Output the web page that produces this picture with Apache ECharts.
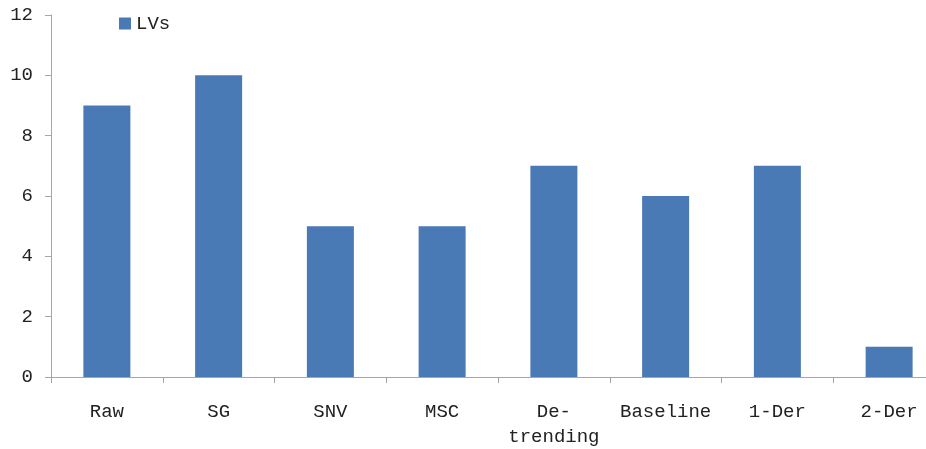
<!DOCTYPE html>
<html>
<head>
<meta charset="utf-8">
<script src="https://cdn.jsdelivr.net/npm/echarts@6/dist/echarts.min.js"></script>
<style>
  html, body { margin: 0; padding: 0; background: #fff; overflow: hidden; }
  #chart { width: 950px; height: 449px; }
</style>
</head>
<body>
<div id="chart"></div>
<script>
// Preprocessing methods and their number of latent variables
const categories = ['Raw', 'SG', 'SNV', 'MSC', 'De-\ntrending', 'Baseline', '1-Der', '2-Der'];
const lvValues = [9, 10, 5, 5, 7, 6, 7, 1];
const yTicks = [0, 2, 4, 6, 8, 10, 12];

const FONT = '"Liberation Mono", "DejaVu Sans Mono", monospace';
const AXIS_COLOR = '#a6a6a6';

const chart = echarts.init(document.getElementById('chart'));
chart.setOption({
  animation: false,
  textStyle: { fontFamily: FONT },
  legend: {
    data: [{ name: 'LVs', icon: 'rect' }],
    left: 114,
    top: 9,
    itemWidth: 12,
    itemHeight: 12,
    itemGap: 6,
    textStyle: { fontFamily: FONT, fontSize: 19, color: '#222' }
  },
  grid: { left: 51, top: 15, width: 894, height: 362 },
  xAxis: {
    type: 'category',
    data: categories,
    axisLine: { lineStyle: { color: AXIS_COLOR, width: 1 } },
    axisTick: { show: true, alignWithLabel: false, length: 6, lineStyle: { color: AXIS_COLOR } },
    axisLabel: {
      color: '#222',
      fontFamily: FONT,
      fontSize: 19,
      margin: 22,
      lineHeight: 25,
      interval: 0
    }
  },
  yAxis: {
    type: 'value',
    min: yTicks[0],
    max: yTicks[yTicks.length - 1],
    interval: 2,
    axisLine: { show: true, lineStyle: { color: AXIS_COLOR, width: 1 } },
    axisTick: { show: true, length: 6, lineStyle: { color: AXIS_COLOR } },
    splitLine: { show: false },
    axisLabel: {
      color: '#222',
      fontFamily: FONT,
      fontSize: 19,
      margin: 18
    }
  },
  series: [{
    name: 'LVs',
    type: 'bar',
    data: lvValues,
    barWidth: 47,
    itemStyle: { color: '#4a7ab5' }
  }]
});
</script>
</body>
</html>
